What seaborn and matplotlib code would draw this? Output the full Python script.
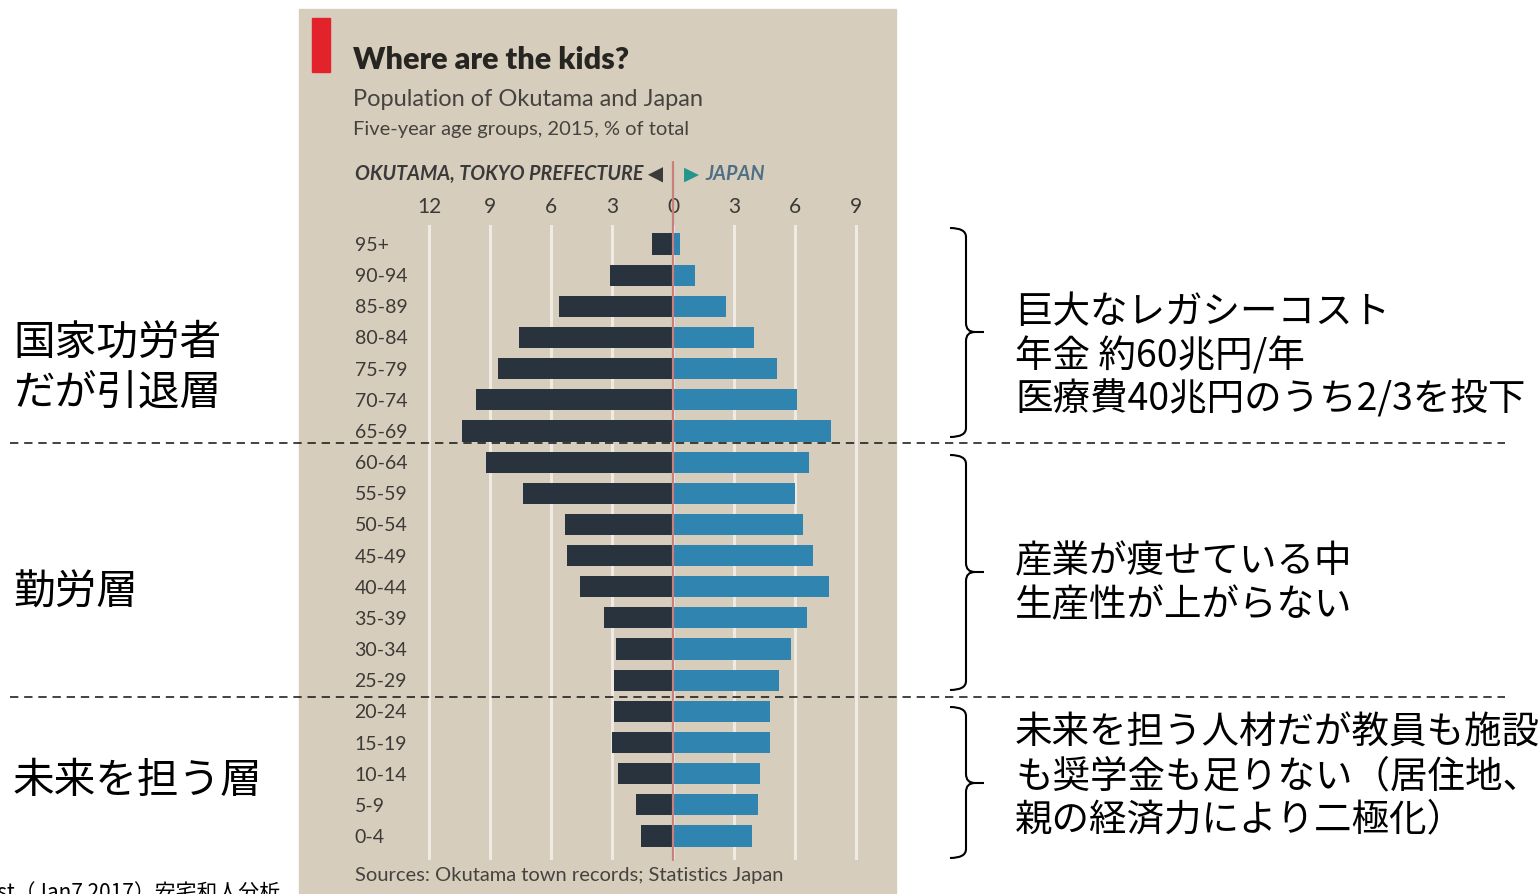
import pandas as pd
import seaborn as sns
import matplotlib.pyplot as plt
from matplotlib.patches import Rectangle, PathPatch
from matplotlib.path import Path
from matplotlib.lines import Line2D

# Age groups, top to bottom
ages = ["95+", "90-94", "85-89", "80-84", "75-79", "70-74", "65-69", "60-64",
        "55-59", "50-54", "45-49", "40-44", "35-39", "30-34", "25-29", "20-24",
        "15-19", "10-14", "5-9", "0-4"]
# % of total population, 2015
okutama = [1.05, 3.1, 5.6, 7.6, 8.6, 9.7, 10.4, 9.2, 7.4, 5.3, 5.2, 4.6, 3.4,
           2.8, 2.9, 2.9, 3.0, 2.7, 1.8, 1.6]
japan = [0.35, 1.1, 2.6, 4.0, 5.1, 6.1, 7.8, 6.7, 6.0, 6.4, 6.9, 7.7, 6.6,
         5.8, 5.2, 4.8, 4.8, 4.3, 4.2, 3.9]
xticks = [-12, -9, -6, -3, 0, 3, 6, 9]
xticklabels = ["12", "9", "6", "3", "0", "3", "6", "9"]

left_notes = [["国家功労者", "だが引退層"], ["勤労層"], ["未来を担う層"]]
left_note_y = [[343, 393], [593], [782]]
right_notes = [["巨大なレガシーコスト", "年金 約60兆円/年", "医療費40兆円のうち2/3を投下"],
               ["産業が痩せている中", "生産性が上がらない"],
               ["未来を担う人材だが教員も施設", "も奨学金も足りない（居住地、", "親の経済力により二極化）"]]
right_note_y = [[312, 357, 400], [562, 606], [733, 777, 820]]
braces = [(228, 332, 437), (455, 572, 690), (707, 783, 858)]

df = pd.DataFrame({
    "age": ages * 2,
    "value": [-v for v in okutama] + japan,
    "side": ["Okutama"] * len(ages) + ["Japan"] * len(ages),
})

W, H = 1540, 894
BEIGE = "#d7cdbd"
LAT = ["Lato", "DejaVu Sans"]
JP = ["Noto Sans CJK JP", "DejaVu Sans"]

sns.set_theme(style="white")
plt.rcParams["font.family"] = LAT

fig = plt.figure(figsize=(W / 100, H / 100), dpi=100)
fig.patch.set_facecolor("white")


def fx(x):
    return x / W


def fy(y):
    return 1 - y / H


# photographed chart panel
fig.patches.append(Rectangle((fx(299), 0), fx(896 - 299), 1 - 9 / H,
                             transform=fig.transFigure, color=BEIGE, zorder=-2))
fig.patches.append(Rectangle((fx(312), fy(72)), fx(18), 54 / H,
                             transform=fig.transFigure, color="#e3232b", zorder=-1))

ax_l, ax_r, ax_t, ax_b = 399, 876, 225, 860
ax = fig.add_axes([fx(ax_l), fy(ax_b), fx(ax_r - ax_l), (ax_b - ax_t) / H])
ax.set_facecolor("none")

sns.barplot(data=df, x="value", y="age", hue="side", order=ages,
            palette={"Okutama": "#28333d", "Japan": "#2f84b0"},
            dodge=False, width=0.68, saturation=1, legend=False, linewidth=0,
            ax=ax, zorder=3)

ax.set_xlim(-13.5, 10)
ax.set_ylim(19.77, -0.61)
ax.set_xticks(xticks)
ax.set_xticklabels(xticklabels)
ax.xaxis.tick_top()
ax.tick_params(axis="x", length=0, pad=6, labelsize=15, labelcolor="#3c3a36")
ax.tick_params(axis="y", length=0, pad=32, labelsize=14, labelcolor="#3c3a36")
for lab in ax.get_yticklabels():
    lab.set_horizontalalignment("left")
ax.set_xlabel("")
ax.set_ylabel("")
ax.grid(axis="x", color="#efebe3", lw=2.2, zorder=1)
ax.set_axisbelow(True)
for s in ax.spines.values():
    s.set_visible(False)
ax.axvline(0, ymin=0, ymax=1.1, color="#c9807c", lw=1.6, zorder=4, clip_on=False)

# chart texts
fig.text(fx(353), fy(60), "Where are the kids?", fontsize=22, fontweight="heavy",
         color="#262521", va="center")
fig.text(fx(353), fy(100), "Population of Okutama and Japan", fontsize=17,
         color="#45433f", va="center")
fig.text(fx(353), fy(130), "Five-year age groups, 2015, % of total", fontsize=14.5,
         color="#45433f", va="center")
fig.text(fx(663), fy(174), "OKUTAMA, TOKYO PREFECTURE ◀", fontsize=14.2,
         style="italic", fontweight="bold", color="#3a3a3a", va="center", ha="right")
fig.text(fx(684), fy(174), "▶", fontsize=14, family=["DejaVu Sans"], color="#23958a",
         va="center")
fig.text(fx(705), fy(174), "JAPAN", fontsize=14.2, style="italic", fontweight="bold",
         color="#4f6f85", va="center")
fig.text(fx(355), fy(875), "Sources: Okutama town records; Statistics Japan",
         fontsize=14.5, color="#45433f", va="center")

# annotations
for lines, ys in zip(left_notes, left_note_y):
    for t, y in zip(lines, ys):
        fig.text(fx(13), fy(y), t, fontsize=30, family=JP, color="black", va="center")
for lines, ys in zip(right_notes, right_note_y):
    for t, y in zip(lines, ys):
        fig.text(fx(1015), fy(y), t, fontsize=27, family=JP, color="black", va="center")
fig.text(fx(280), fy(882), "The Economist（Jan7 2017）安宅和人分析", fontsize=15,
         family=JP, color="black", va="top", ha="right")

# curly braces
x0, x1, x2, r = 950, 966, 984, 9
for top, mid, bot in braces:
    verts = [(x0, top), (x1, top), (x1, top + r), (x1, mid - r), (x1, mid), (x1 + r, mid),
             (x2, mid), (x1 + r, mid), (x1, mid), (x1, mid + r), (x1, bot - r),
             (x1, bot), (x0, bot)]
    codes = [Path.MOVETO, Path.CURVE3, Path.CURVE3, Path.LINETO, Path.CURVE3, Path.CURVE3,
             Path.LINETO, Path.MOVETO, Path.CURVE3, Path.CURVE3, Path.LINETO,
             Path.CURVE3, Path.CURVE3]
    p = Path([(fx(a), fy(b)) for a, b in verts], codes)
    fig.patches.append(PathPatch(p, transform=fig.transFigure, fill=False,
                                 lw=1.5, color="black", zorder=5))

# dashed separators
for y in [443, 697]:
    fig.lines.append(Line2D([fx(10), fx(1505)], [fy(y), fy(y)], transform=fig.transFigure,
                            color="#222222", lw=1.2, linestyle=(0, (5, 3.5)), zorder=6))

fig.savefig("out.png", dpi=100, facecolor="white")
